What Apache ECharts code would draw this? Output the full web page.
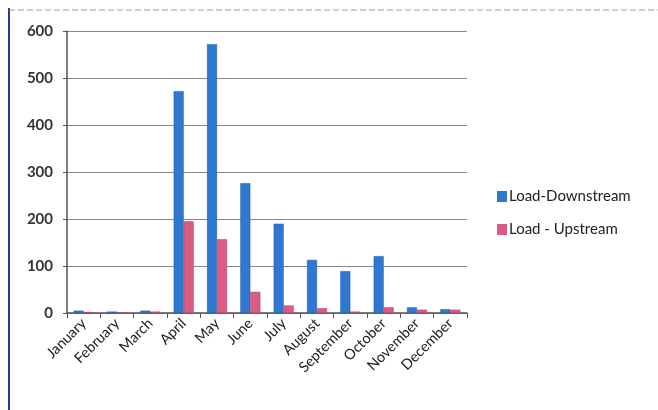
<!DOCTYPE html>
<html>
<head>
<meta charset="utf-8">
<script src="https://cdn.jsdelivr.net/npm/echarts@6/dist/echarts.min.js"></script>
<style>
  html, body { margin: 0; padding: 0; background: #fff; }
  #chart { width: 658px; height: 410px; }
</style>
</head>
<body>
<div id="chart"></div>
<script>
// months on the x axis
var months = ['January', 'February', 'March', 'April', 'May', 'June',
              'July', 'August', 'September', 'October', 'November', 'December'];
// values
var downstream = [5, 3, 5, 472, 572, 276, 190, 113, 89, 121, 12, 8];
var upstream = [2, 1, 3, 195, 157, 45, 16, 10, 3, 12, 7, 7];
var yTicks = [0, 100, 200, 300, 400, 500, 600];

var chart = echarts.init(document.getElementById('chart'));

var font = 'Lato, "Open Sans", sans-serif';

chart.setOption({
    backgroundColor: '#ffffff',
    animation: false,
    textStyle: { fontFamily: font },
    // frame of the scanned figure
    graphic: [
        { type: 'line', shape: { x1: 9, y1: 8, x2: 9, y2: 410 },
          style: { stroke: '#2a3b8f', lineWidth: 2 } },
        { type: 'line', shape: { x1: 9, y1: 10, x2: 658, y2: 10 },
          style: { stroke: '#9a9a9a', lineWidth: 1, lineDash: [6, 3] } }
    ],
    legend: {
        orient: 'vertical',
        left: 492,
        top: 184,
        itemWidth: 10,
        itemHeight: 11,
        itemGap: 18,
        itemStyle: { borderWidth: 0 },
        icon: 'rect',
        textStyle: { fontSize: 15, color: '#222', fontFamily: font, padding: [0, 0, 0, -3] }
    },
    grid: { left: 67, right: 191, top: 31, bottom: 97 },
    xAxis: {
        type: 'category',
        data: months,
        axisLine: { lineStyle: { color: '#555', width: 1.5 } },
        axisTick: { show: true, alignWithLabel: false, length: 5, lineStyle: { color: '#555' } },
        axisLabel: { rotate: 45, fontSize: 14.5, color: '#222', margin: 8, interval: 0 }
    },
    yAxis: {
        type: 'value',
        min: yTicks[0],
        max: yTicks[yTicks.length - 1],
        interval: 100,
        axisLine: { show: true, lineStyle: { color: '#555', width: 1.5 } },
        axisTick: { show: true, length: 4, lineStyle: { color: '#555' } },
        axisLabel: { fontSize: 15, fontWeight: 'bold', color: '#333', margin: 14 },
        splitLine: { lineStyle: { color: '#888', width: 1 } }
    },
    series: [
        {
            name: 'Load-Downstream',
            type: 'bar',
            data: downstream,
            barWidth: 10,
            barGap: '0%',
            itemStyle: { color: '#2f78cf', borderColor: '#1f5aa8', borderWidth: 0.5 }
        },
        {
            name: 'Load - Upstream',
            type: 'bar',
            data: upstream,
            barWidth: 10,
            itemStyle: { color: '#d95c82', borderColor: '#b83a63', borderWidth: 0.5 }
        }
    ]
});
</script>
</body>
</html>
